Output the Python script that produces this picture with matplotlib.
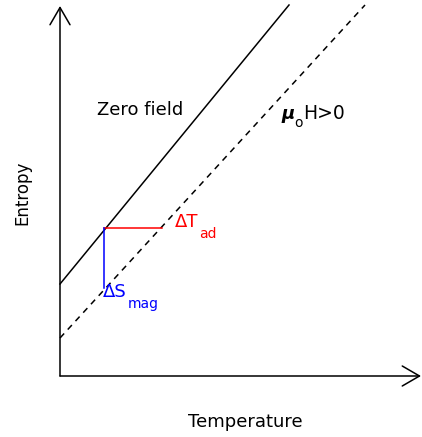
import matplotlib.pyplot as plt

# schematic entropy curves (arbitrary units, origin at the axes corner)
T_zero = [0, 229]
S_zero = [92, 371]
T_field = [0, 305]
S_field = [38, 371]

# magnetocaloric construction
T_start = 44
S_start = 148
T_end = 102      # adiabatic path ends on the in-field curve
S_low = 88       # isothermal path ends on the in-field curve

fig = plt.figure(figsize=(4.22, 4.37), dpi=100)
ax = fig.add_axes([0, 0, 1, 1])
ax.set_xlim(-60, 362)
ax.set_ylim(-61, 376)
ax.axis('off')

# axes with open arrow heads
arr = dict(arrowstyle='->,head_length=0.62,head_width=0.36', color='k', lw=1.1,
           shrinkA=0, shrinkB=0, mutation_scale=20)
ax.annotate('', xy=(0, 370), xytext=(0, 0), arrowprops=arr)
ax.annotate('', xy=(361, 0), xytext=(0, 0), arrowprops=arr)

ax.plot(T_zero, S_zero, color='k', lw=1.1)
ax.plot(T_field, S_field, color='k', lw=1.1, dashes=(4, 3.5))

ax.plot([T_start, T_end], [S_start, S_start], color='red', lw=1.1)
ax.plot([T_start, T_start], [S_start, S_low], color='blue', lw=1.1)

ax.text(37, 261, 'Zero field', fontsize=13, ha='left', va='baseline')

ax.text(221, 257, r'$\boldsymbol{\mu}$', fontsize=13, ha='left', va='baseline')
ax.text(234, 249, 'o', fontsize=10, ha='left', va='baseline')
ax.text(243, 257, 'H>0', fontsize=13.5, ha='left', va='baseline')

ax.text(115, 149, '\u0394T', fontsize=13, color='red', ha='left', va='baseline')
ax.text(139, 138, 'ad', fontsize=10, color='red', ha='left', va='baseline')
ax.text(43, 79, '\u0394S', fontsize=13, color='blue', ha='left', va='baseline')
ax.text(68, 68, 'mag', fontsize=10, color='blue', ha='left', va='baseline')

ax.text(-38, 183, 'Entropy', fontsize=12, rotation=90, ha='center', va='center')
ax.text(128, -51, 'Temperature', fontsize=13, ha='left', va='baseline')

fig.savefig('out.png', dpi=100)
